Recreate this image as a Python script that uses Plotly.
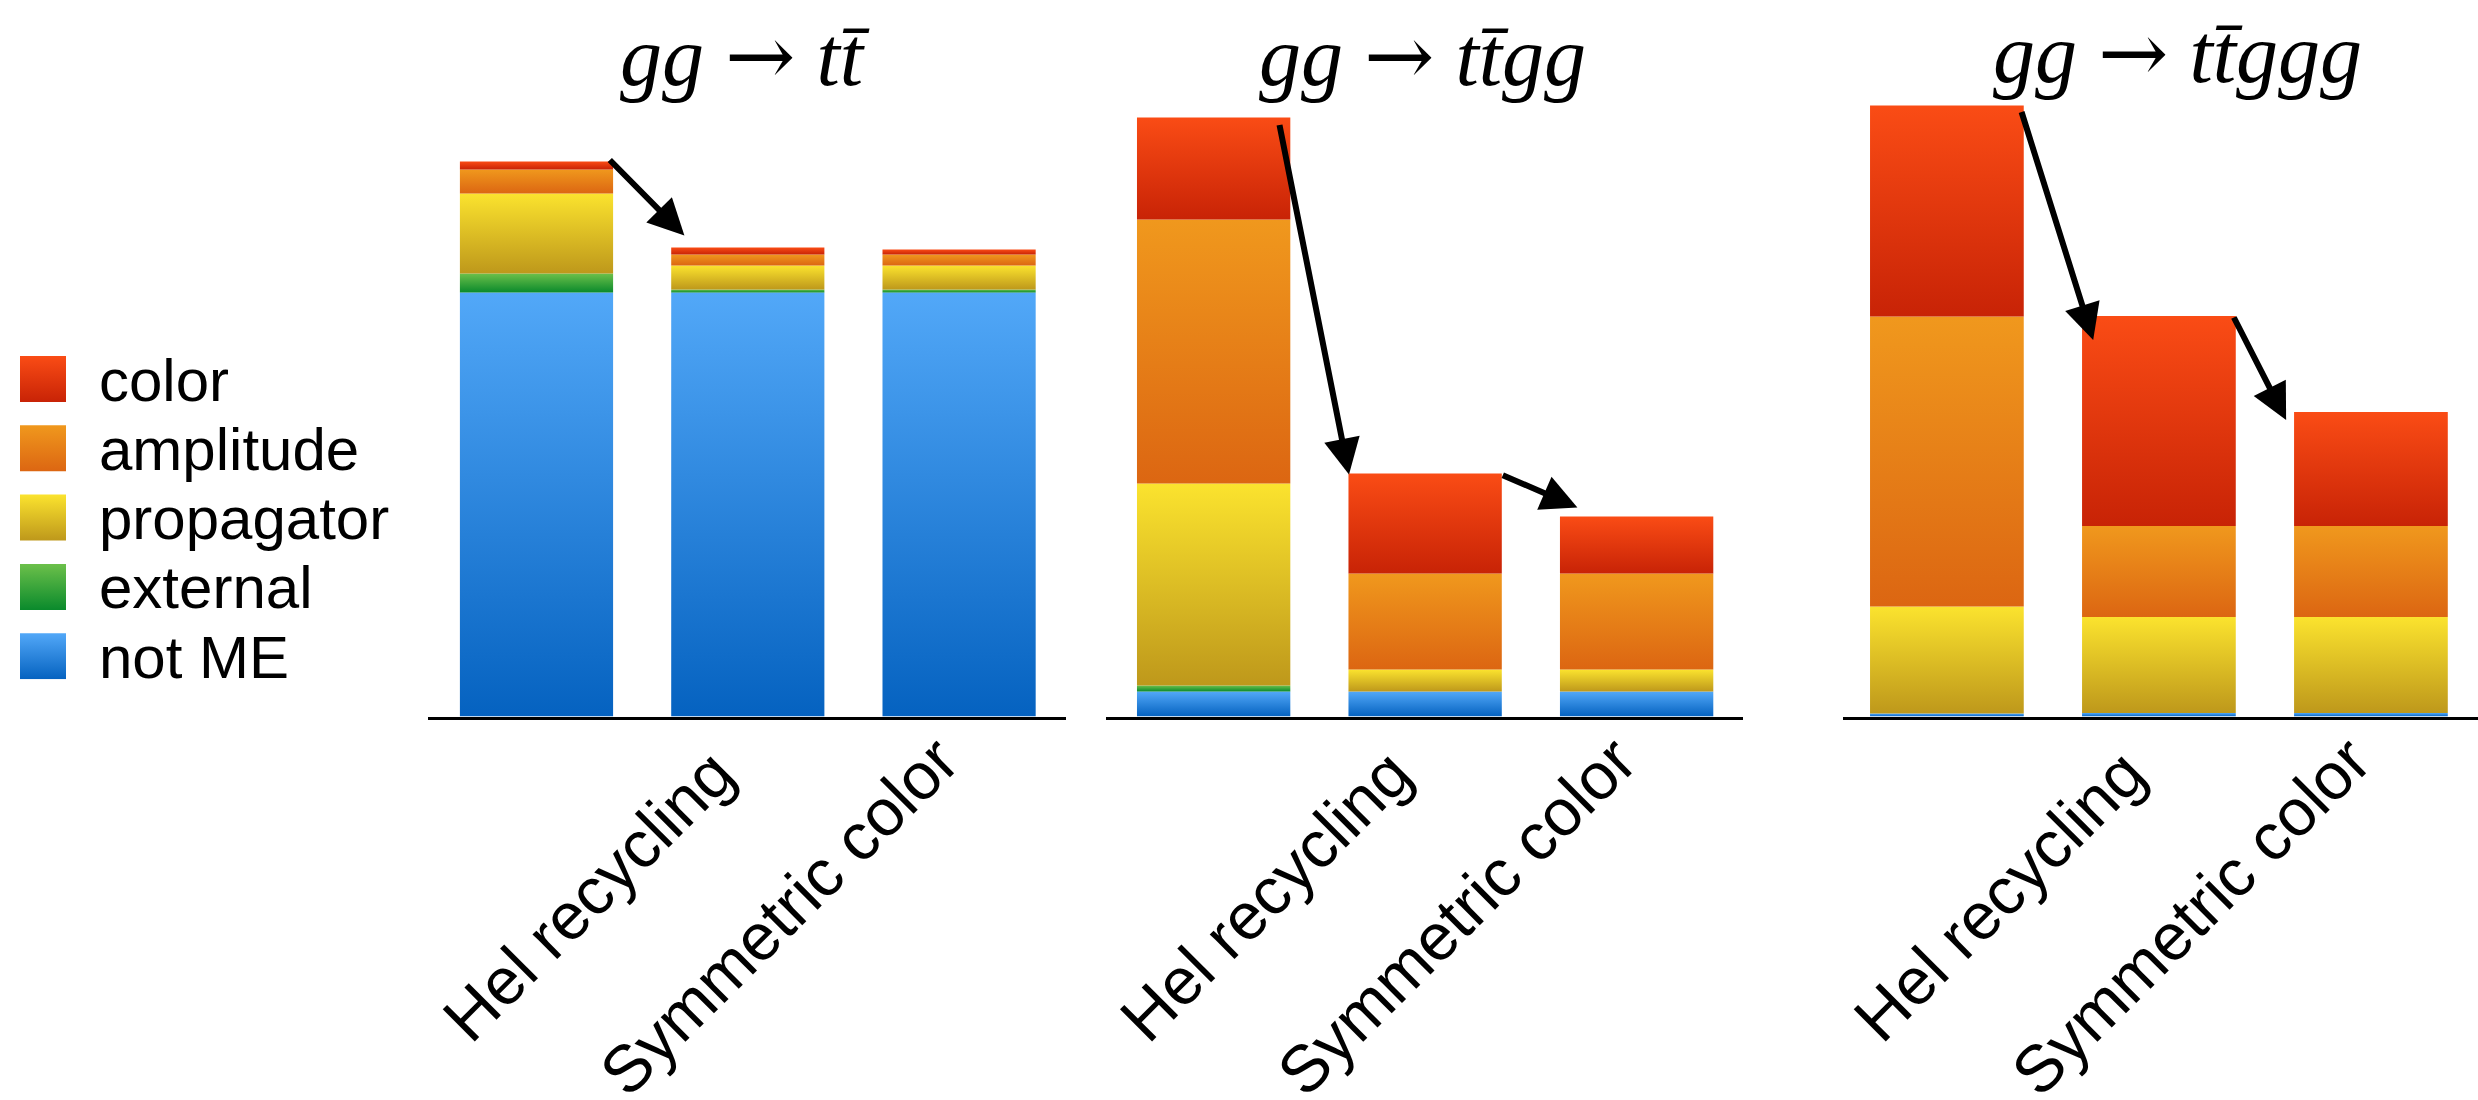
import plotly.graph_objects as go

# ---------------- data ----------------
ARROW = '<span style="font-family:DejaVu Serif">→</span>'
panel_titles = ["<i>gg</i> " + ARROW + " <i>tt\u0304</i>",
                "<i>gg</i> " + ARROW + " <i>tt\u0304gg</i>",
                "<i>gg</i> " + ARROW + " <i>tt\u0304ggg</i>"]
bar_names = ["Baseline", "Hel recycling", "Symmetric color"]
tick_labels = ["Hel recycling", "Symmetric color"]
components = ["not ME", "external", "propagator", "amplitude", "color"]  # bottom -> top

# gg -> tt~  (relative time, arbitrary units)
tt_not_me = [424, 424, 424]
tt_external = [19, 3, 3]
tt_propagator = [80, 24, 24]
tt_amplitude = [24, 11, 11]
tt_color = [8, 7, 5]

# gg -> tt~gg
ttgg_not_me = [25, 25, 25]
ttgg_external = [6, 0, 0]
ttgg_propagator = [202, 22, 22]
ttgg_amplitude = [264, 96, 96]
ttgg_color = [102, 100, 57]

# gg -> tt~ggg
ttggg_not_me = [3, 3.5, 3.5]
ttggg_external = [0, 0, 0]
ttggg_propagator = [107, 96, 96]
ttggg_amplitude = [290, 91, 91]
ttggg_color = [211, 210, 114]

panels = [
    [tt_not_me, tt_external, tt_propagator, tt_amplitude, tt_color],
    [ttgg_not_me, ttgg_external, ttgg_propagator, ttgg_amplitude, ttgg_color],
    [ttggg_not_me, ttggg_external, ttggg_propagator, ttggg_amplitude, ttggg_color],
]

# ---------------- style ----------------
W, H = 2478, 1100
gradients = {  # (bottom, top)
    "not ME": ("#0562C0", "#52A8F8"),
    "external": ("#0A8A2C", "#6CC04A"),
    "propagator": ("#BE981B", "#FBE32E"),
    "amplitude": ("#DC6612", "#F0981D"),
    "color": ("#C82306", "#FA4C15"),
}
bar_width = 0.725
axis_px = [(428, 1066, -0.5135, 2.506), (1106, 1743, -0.509, 2.503), (1843, 2478, -0.49, 2.505)]
title_px = [(745, 56), (1422, 56), (2177, 53)]
# arrows: (panel, from bar, to bar, tail dx, tail dy, tip dx, tip dy) relative to bar tops
arrows = [
    (0, 0, 1, 0.34, 3, -0.30, 12),
    (1, 0, 1, 0.31, -6, -0.36, -1),
    (1, 1, 2, 0.36, -1, -0.28, 9),
    (2, 0, 1, 0.35, -5, -0.31, -24),
    (2, 1, 2, 0.35, 0, -0.40, -8),
]
base_frac = (H - 716.5) / H
yrange_top = 716.5

FONT = "Liberation Sans, Arial, sans-serif"
SERIF = "Liberation Serif, Times New Roman, serif"

fig = go.Figure()
xnames = ["x", "x2", "x3"]

for p, comps in enumerate(panels):
    for b in range(len(bar_names)):
        base = 0.0
        for c, name in enumerate(components):
            v = comps[c][b]
            if v <= 0:
                continue
            x0, x1 = b - bar_width / 2, b + bar_width / 2
            y0, y1 = base, base + v
            bot, top = gradients[name]
            fig.add_trace(go.Scatter(
                x=[x0, x1, x1, x0, x0], y=[y0, y0, y1, y1, y0],
                mode="lines", fill="toself",
                line=dict(width=0, color="rgba(0,0,0,0)"),
                fillcolor=top,
                fillgradient=dict(type="vertical", colorscale=[[0, bot], [1, top]],
                                  start=y0, stop=y1),
                xaxis=xnames[p], yaxis="y",
                name=name, showlegend=False, hoverinfo="skip",
            ))
            base = y1

# legend swatches on an auxiliary axis
leg_order = ["color", "amplitude", "propagator", "external", "not ME"]
leg_step = 69.3
leg_size = 46
for i, name in enumerate(leg_order):
    y0 = i * leg_step
    y1 = y0 + leg_size
    bot, top = gradients[name]
    fig.add_trace(go.Scatter(
        x=[0, 1, 1, 0, 0], y=[y1, y1, y0, y0, y1],
        mode="lines", fill="toself",
        line=dict(width=0, color="rgba(0,0,0,0)"),
        fillcolor=top,
        fillgradient=dict(type="vertical", colorscale=[[0, top], [1, bot]],
                          start=y0, stop=y1),
        xaxis="x4", yaxis="y2", showlegend=False, hoverinfo="skip",
    ))
    fig.add_annotation(
        x=97 / W, y=1 - (356 + y0 + leg_size / 2 + 1) / H, xref="paper", yref="paper",
        text=name, showarrow=False, xanchor="left", yanchor="middle",
        font=dict(family=FONT, size=60, color="black"),
    )

# titles
for p, (tx, ty) in enumerate(title_px):
    fig.add_annotation(
        x=tx / W, y=1 - ty / H, xref="paper", yref="paper",
        text=panel_titles[p], showarrow=False, xanchor="center", yanchor="middle",
        font=dict(family=SERIF, size=84, color="black"),
    )

# arrows
for (p, i, j, tdx, tdy, hdx, hdy) in arrows:
    tops = [sum(c[k] for c in panels[p]) for k in range(3)]
    fig.add_annotation(
        x=j + hdx, y=tops[j] + hdy, ax=i + tdx, ay=tops[i] + tdy,
        xref=xnames[p], yref="y", axref=xnames[p], ayref="y",
        showarrow=True, arrowhead=2, arrowsize=1.2, arrowwidth=6, arrowcolor="black",
        text="",
    )

# labels are centred under the bars in the original: pad the shorter one
label_text = [tick_labels[0] + "\u00a0", tick_labels[1]]
axis_common = dict(
    showline=True, linecolor="black", linewidth=3, showgrid=False, zeroline=False,
    ticks="", tickvals=[1, 2], ticktext=label_text, tickangle=-45,
    tickfont=dict(family=FONT, size=66, color="black"), anchor="y", fixedrange=True,
    automargin=False, ticklabelshift=-20, ticklabelstandoff=-24,
)
layout_axes = {}
for p, (a, b, r0, r1) in enumerate(axis_px):
    key = "xaxis" if p == 0 else f"xaxis{p + 1}"
    layout_axes[key] = dict(axis_common, domain=[a / W, min(b / W, 1.0)], range=[r0, r1])

fig.update_layout(
    width=W, height=H,
    margin=dict(l=0, r=0, t=0, b=0, autoexpand=False),
    paper_bgcolor="white", plot_bgcolor="white",
    showlegend=False,
    yaxis=dict(domain=[base_frac, 1], range=[0, yrange_top], visible=False,
               fixedrange=True, automargin=False),
    xaxis4=dict(domain=[20 / W, 66 / W], range=[0, 1], visible=False, anchor="y2",
                fixedrange=True, automargin=False),
    yaxis2=dict(domain=[1 - (356 + 4 * leg_step + leg_size) / H, 1 - 356 / H],
                range=[4 * leg_step + leg_size, 0], visible=False, anchor="x4",
                fixedrange=True, automargin=False),
    **layout_axes,
)

fig.write_html("out.html", config={"displayModeBar": False},
               post_script="document.body.style.margin='0';")
